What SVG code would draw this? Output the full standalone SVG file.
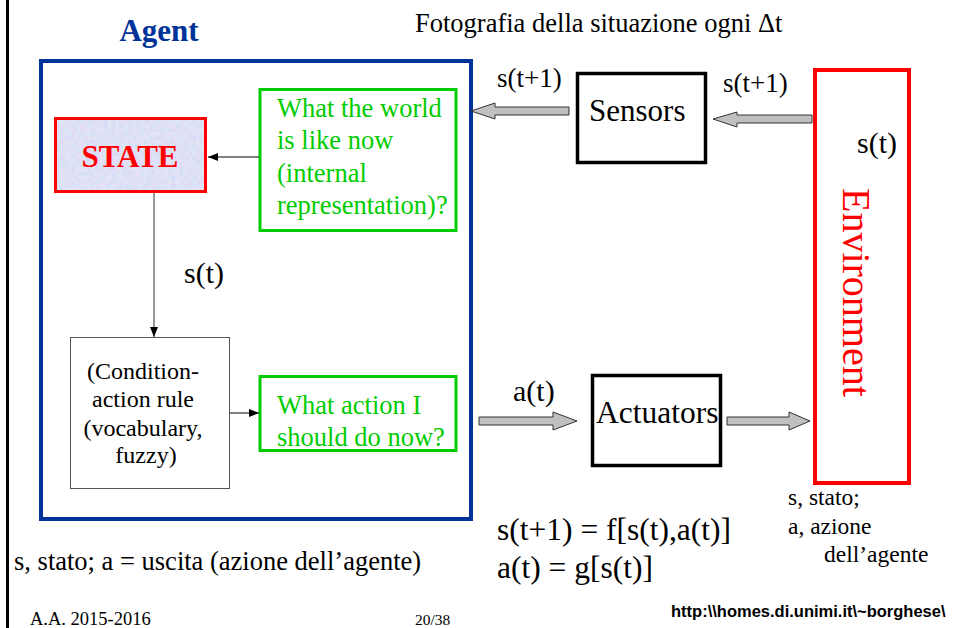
<svg xmlns="http://www.w3.org/2000/svg" width="953" height="628" viewBox="0 0 953 628">
<style>
text{font-family:"Liberation Serif","Times New Roman",serif;fill:#000}
.green rect{fill:none;stroke:#00cc00;stroke-width:3}
.green text{fill:#00cc00;font-size:26.5px}
.blk{fill:none;stroke:#000;stroke-width:3.5}
.block{fill:#c0c0c0;stroke:#333;stroke-width:1}
.thin{stroke:#000;stroke-width:1;fill:none}
</style>
<defs>
<marker id="ah" markerWidth="10" markerHeight="8" refX="10" refY="4" orient="auto" markerUnits="userSpaceOnUse">
<path d="M0,0 L10,4 L0,8 Z" fill="#000"/>
</marker>
<filter id="tex" x="0" y="0" width="1" height="1">
<feTurbulence type="fractalNoise" baseFrequency="0.25" numOctaves="3" seed="5" result="n"/>
<feColorMatrix in="n" type="matrix" values="0.6 0 0 0 0.55  0 0.4 0 0 0.62  0 0 0.2 0 0.85  0 0 0 0 1" result="c"/>
<feComposite in="c" in2="SourceGraphic" operator="in"/>
</filter>
</defs>

<rect x="6" y="0" width="3" height="628" fill="#000"/>

<text x="415" y="32" font-size="26.5">Fotografia della situazione ogni Δt</text>

<g id="agent">
<text x="159" y="41" font-size="31" font-weight="bold" text-anchor="middle" style="fill:#003399">Agent</text>
<rect x="41" y="61" width="430" height="458" fill="none" stroke="#003399" stroke-width="4"/>
</g>

<g id="state">
<rect x="55.5" y="118.5" width="150" height="73" fill="#cfd8f4"/>
<rect x="55.5" y="118.5" width="150" height="73" fill="#fff" filter="url(#tex)" opacity="0.5"/>
<rect x="55.5" y="118.5" width="150" height="73" fill="none" stroke="#ff0000" stroke-width="3"/>
<text x="130" y="167" font-size="31" font-weight="bold" text-anchor="middle" style="fill:#ff0000">STATE</text>
</g>

<g id="world" class="green">
<rect x="260" y="89.5" width="196" height="141"/>
<text x="277" y="117">What the world</text>
<text x="277" y="149">is like now</text>
<text x="277" y="182">(internal</text>
<text x="277" y="214">representation)?</text>
</g>

<g id="rules">
<rect x="70.5" y="337.5" width="159" height="151" fill="none" stroke="#555" stroke-width="1"/>
<text font-size="24" text-anchor="middle">
<tspan x="146" y="379">(Condition-</tspan>
<tspan x="146" y="407">action rule</tspan>
<tspan x="146" y="436">(vocabulary,</tspan>
<tspan x="146" y="463">fuzzy)</tspan>
</text>
</g>

<g id="action" class="green">
<rect x="260" y="376.5" width="196" height="74"/>
<text x="277" y="414">What action I</text>
<text x="277" y="446">should do now?</text>
</g>

<g id="sensors">
<rect x="577.5" y="73.5" width="128" height="89" class="blk"/>
<text x="589" y="121" font-size="31">Sensors</text>
</g>

<g id="actuators">
<rect x="592.5" y="375.5" width="128" height="90" class="blk"/>
<text x="596" y="423" font-size="31.5">Actuators</text>
</g>

<g id="environment">
<rect x="815" y="70" width="94" height="413" fill="none" stroke="#ff0000" stroke-width="4"/>
<text x="857" y="153" font-size="30">s(t)</text>
<text transform="translate(843,188) rotate(90)" font-size="40" style="fill:#ff0000">Environment</text>
</g>

<g id="connectors">
<line x1="259" y1="157" x2="208" y2="157" class="thin" marker-end="url(#ah)"/>
<line x1="154" y1="193" x2="154" y2="337" stroke="#777" stroke-width="1.5" marker-end="url(#ah)"/>
<line x1="230" y1="413" x2="259" y2="413" class="thin" marker-end="url(#ah)"/>
<polygon class="block" points="471,111 495,103 495,107 569,107 569,115 495,115 495,119"/>
<polygon class="block" points="713,119 737,112 737,115 812,115 812,123 737,123 737,127"/>
<polygon class="block" points="479,417 553,417 553,412 577,421 553,430 553,425 479,425"/>
<polygon class="block" points="727,417 789,417 789,412 810,421 789,430 789,425 727,425"/>
</g>

<g id="labels">
<text x="497" y="87" font-size="27">s(t+1)</text>
<text x="723" y="92" font-size="27">s(t+1)</text>
<text x="184" y="283" font-size="30">s(t)</text>
<text x="513" y="401" font-size="30">a(t)</text>
<text x="497" y="540" font-size="31.5">s(t+1) = f[s(t),a(t)]</text>
<text x="497" y="578" font-size="31.5">a(t) = g[s(t)]</text>
<text x="788" y="505" font-size="23.5">s, stato;</text>
<text x="788" y="534" font-size="23.5">a, azione</text>
<text x="824" y="562" font-size="23.5">dell’agente</text>
<text x="14" y="570" font-size="26.5">s, stato; a = uscita (azione dell’agente)</text>
<text x="30" y="625" font-size="18.5">A.A. 2015-2016</text>
<text x="415" y="625" font-size="15.5">20/38</text>
<text x="671" y="617" font-size="16.5" font-weight="bold" style="font-family:'Liberation Sans',Arial,sans-serif">http:\\homes.di.unimi.it\~borghese\</text>
</g>
</svg>
